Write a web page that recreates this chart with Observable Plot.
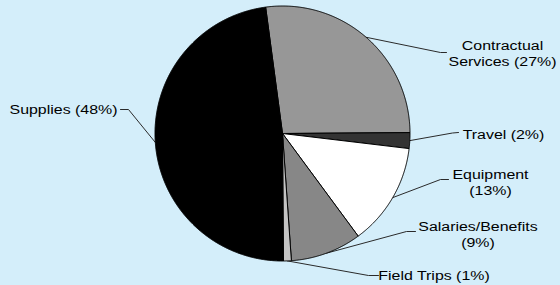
<!DOCTYPE html>
<html><head><meta charset="utf-8">
<script src="https://cdn.jsdelivr.net/npm/d3@7"></script>
<script src="https://cdn.jsdelivr.net/npm/@observablehq/plot@0.6"></script>
<style>
html,body{margin:0;padding:0;background:#d4eefa;}
</style></head><body><div id="chart"></div>
<script>
// ---- data ----
const categories = ["Contractual Services", "Travel", "Equipment", "Salaries/Benefits", "Field Trips", "Supplies"];
const labelTexts = ["Contractual\nServices (27%)", "Travel (2%)", "Equipment\n(13%)", "Salaries/Benefits\n(9%)", "Field Trips (1%)", "Supplies (48%)"];
const shares = [27, 2, 13, 9, 1, 48];
const sliceColors = ["#979797", "#333333", "#ffffff", "#878787", "#c4c4c4", "#000000"];

// ---- layout ----
const W = 560, H = 285, CX = 282, CY = 133, R = 127.5, START_DEG = -7.6;
const labelLayout = [
  {elbow: [440, 52], end: [446, 52], text: [502, 52]},
  {elbow: [452, 132.5], end: [458, 132], text: [503, 133]},
  {elbow: [440, 179], end: [448, 179], text: [490, 181]},
  {elbow: [406, 231], end: [415, 231], text: [477.5, 233]},
  {elbow: [368, 275], end: [378, 275], text: [433.5, 274.5]},
  {elbow: [128, 109], end: [120, 109], text: [63, 108]}
];

const rad = Math.PI / 180;
const arcs = d3.pie().sort(null).value(d => d)
  .startAngle(START_DEG * rad).endAngle((START_DEG + 360) * rad)(shares);

const slicePts = [];
const leaderPts = [];
const labels = [];
arcs.forEach((a, i) => {
  const name = categories[i], color = sliceColors[i];
  const n = Math.max(4, Math.ceil((a.endAngle - a.startAngle) / rad * 3));
  slicePts.push({name, color, x: CX, y: CY});
  for (let k = 0; k <= n; k++) {
    const t = a.startAngle + (a.endAngle - a.startAngle) * k / n;
    slicePts.push({name, color, x: CX + R * Math.sin(t), y: CY - R * Math.cos(t)});
  }
  slicePts.push({name, color, x: CX, y: CY});
  const mid = (a.startAngle + a.endAngle) / 2;
  const L = labelLayout[i];
  leaderPts.push({name, x: CX + R * Math.sin(mid), y: CY - R * Math.cos(mid)});
  leaderPts.push({name, x: L.elbow[0], y: L.elbow[1]});
  leaderPts.push({name, x: L.end[0], y: L.end[1]});
  labels.push({name, text: labelTexts[i], x: L.text[0], y: L.text[1]});
});

const chart = Plot.plot({
  width: W, height: H, margin: 0,
  x: {domain: [0, W], axis: null},
  y: {domain: [0, H], reverse: true, axis: null},
  color: {type: "identity"},
  style: {background: "#d4eefa", fontFamily: "'Liberation Sans', Arial, Helvetica, sans-serif"},
  marks: [
    Plot.line(leaderPts, {x: "x", y: "y", z: "name", stroke: "#2a2a2a", strokeWidth: 1, curve: "linear"}),
    Plot.line(slicePts, {x: "x", y: "y", z: "name", fill: "color", stroke: "#000", strokeWidth: 1, strokeLinejoin: "round", curve: "linear"}),
    Plot.text(labels, {x: "x", y: "y", text: "text", textAnchor: "middle", lineAnchor: "middle", lineHeight: 1.18, fontSize: 13.5, fill: "#000"})
  ]
});
document.getElementById("chart").appendChild(chart);
// widen glyphs horizontally to match the reference's broad typeface
chart.querySelectorAll('g[aria-label="text"] text').forEach(el => {
  const t = el.getAttribute("transform");
  if (t) el.setAttribute("transform", t + " scale(1.18,1)");
  else {
    const x = +el.getAttribute("x") || 0, y = +el.getAttribute("y") || 0;
    el.setAttribute("transform", `translate(${x},${y}) scale(1.18,1) translate(${-x},${-y})`);
  }
});
</script></body></html>
